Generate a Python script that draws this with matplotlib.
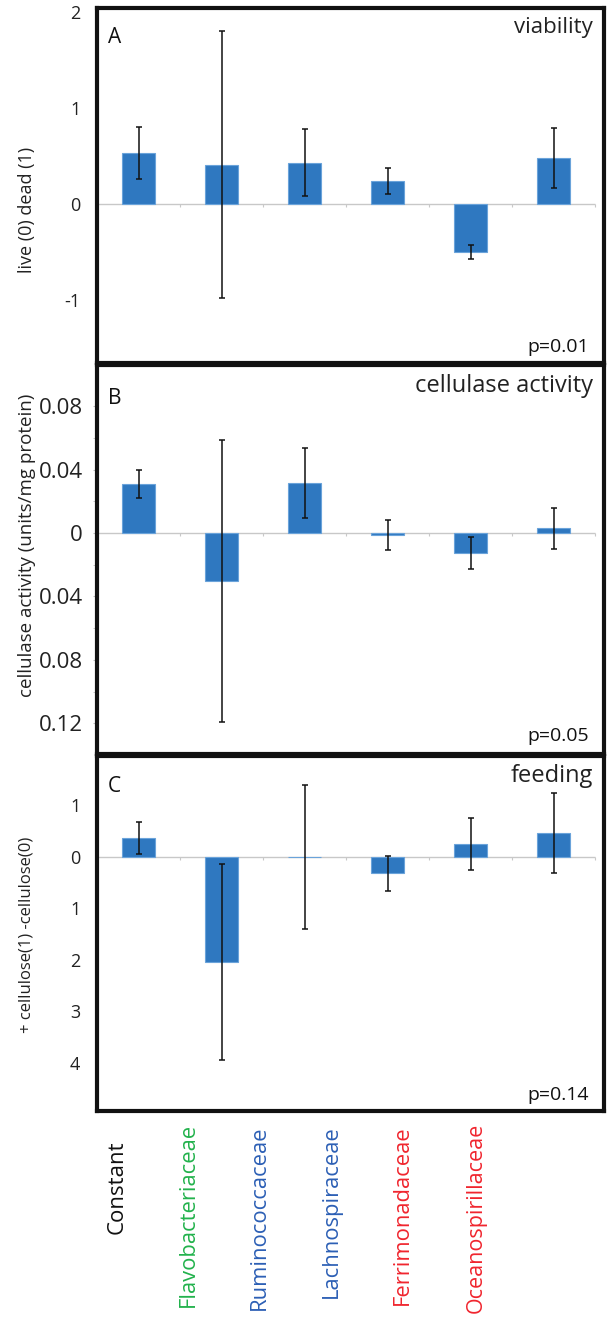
import matplotlib.pyplot as plt
import numpy as np

plt.rcParams['font.family'] = ['Open Sans', 'DejaVu Sans']

# data
taxa = ["Constant", "Flavobacteriaceae", "Ruminococcaceae", "Lachnospiraceae",
        "Ferrimonadaceae", "Oceanospirillaceae"]
taxa_colors = ["#111111", "#22b24c", "#2c5fb5", "#2c5fb5", "#f0252e", "#f0252e"]

viability = [0.53, 0.41, 0.43, 0.24, -0.50, 0.48]
viability_err = [0.27, 1.39, 0.35, 0.14, 0.07, 0.31]

cellulase = [0.031, -0.030, 0.0315, -0.0015, -0.0126, 0.003]
cellulase_err = [0.009, 0.089, 0.022, 0.0095, 0.010, 0.013]

feeding = [0.37, -2.04, -0.01, -0.32, 0.25, 0.47]
feeding_err = [0.31, 1.90, 1.40, 0.345, 0.50, 0.78]

W, H = 607, 1319
fig = plt.figure(figsize=(W / 100, H / 100), dpi=100)


def fx(px):
    return px / W


def fy(py):
    return 1 - py / H


bar_color = "#2f78c0"
x = np.arange(len(taxa))

panels = [
    # top, bottom px, values, errors, ylim, ticks, ticklabels, letter, title,
    # title size, p, ylabel, ylabel size, ylabel centre
    (7.5, 363, viability, viability_err, (-1.656, 2.047), [2, 1, 0, -1],
     ["2", "1", "0", "-1"], "A", "viability", 16, "p=0.01",
     "live (0) dead (1)", 13, 210),
    (365, 754, cellulase, cellulase_err, (-0.1394, 0.106),
     [0.08, 0.04, 0, -0.04, -0.08, -0.12],
     ["0.08", "0.04", "0", "0.04", "0.08", "0.12"], "B", "cellulase activity",
     17, "p=0.05", "cellulase activity (units/mg protein)", 13.5, 545),
    (756, 1111, feeding, feeding_err, (-4.94, 1.96), [1, 0, -1, -2, -3, -4],
     ["1", "0", "1", "2", "3", "4"], "C", "feeding", 17, "p=0.14",
     "+ cellulose(1) -cellulose(0)", 12, 935),
]

for (top, bot, vals, errs, ylim, ticks, tlabels, letter, title, tsize, pval,
     ylabel, ysize, ylab_y) in panels:
    ax = fig.add_axes([fx(97), fy(bot), fx(604 - 97), (bot - top) / H])
    ax.bar(x, vals, width=0.4, color=bar_color, edgecolor="#6aa3da",
           linewidth=0.8, zorder=2)
    ax.errorbar(x, vals, yerr=errs, fmt="none", ecolor="#111111",
                elinewidth=1.1, capsize=2.5, capthick=1.1, zorder=3)
    ax.hlines(0, -0.5, 5.5, color="#c8c8c8", linewidth=1, zorder=1)
    ax.vlines(np.arange(7) - 0.5, 0, -(ylim[1] - ylim[0]) * 0.008,
              color="#c8c8c8", linewidth=0.8, zorder=1)
    ax.set_xlim(-0.5, 5.608)
    ax.set_ylim(*ylim)
    ax.set_xticks([])
    ax.set_yticks(ticks)
    if letter == "B":
        ax.set_yticklabels(tlabels, fontsize=16, color="#222222")
        ax.set_yticks(np.arange(-0.12, 0.1, 0.02), minor=True)
        ax.tick_params(axis="y", which="both", length=3, color="#bbbbbb",
                       pad=7)
    else:
        ax.set_yticklabels(tlabels, fontsize=13, color="#222222")
        ax.tick_params(axis="y", length=0, pad=12)
    for s in ax.spines.values():
        s.set_linewidth(3)
        s.set_color("#111111")
    ax.text(0.022, 0.915, letter, transform=ax.transAxes, fontsize=15,
            color="#111111", ha="left", va="center")
    ax.text(0.978, 0.945, title, transform=ax.transAxes, fontsize=tsize,
            color="#222222", ha="right", va="center")
    ax.text(0.97, 0.045, pval, transform=ax.transAxes, fontsize=14,
            color="#111111", ha="right", va="center")
    fig.text(fx(27), fy(ylab_y), ylabel, rotation=90, fontsize=ysize,
             color="#222222", ha="center", va="center")

# category labels under the panels
label_x = [117, 188, 259, 331, 402, 476]
label_top = [1140, 1123, 1125, 1125, 1125, 1123]
label_size = [16, 15.8, 15.8, 15.8, 15.8, 15.5]
for name, c, lx, lt, fs in zip(taxa, taxa_colors, label_x, label_top,
                               label_size):
    fig.text(fx(lx), fy(lt), name, rotation=90, color=c, fontsize=fs,
             ha="center", va="top")

fig.savefig("out.png", dpi=100)
